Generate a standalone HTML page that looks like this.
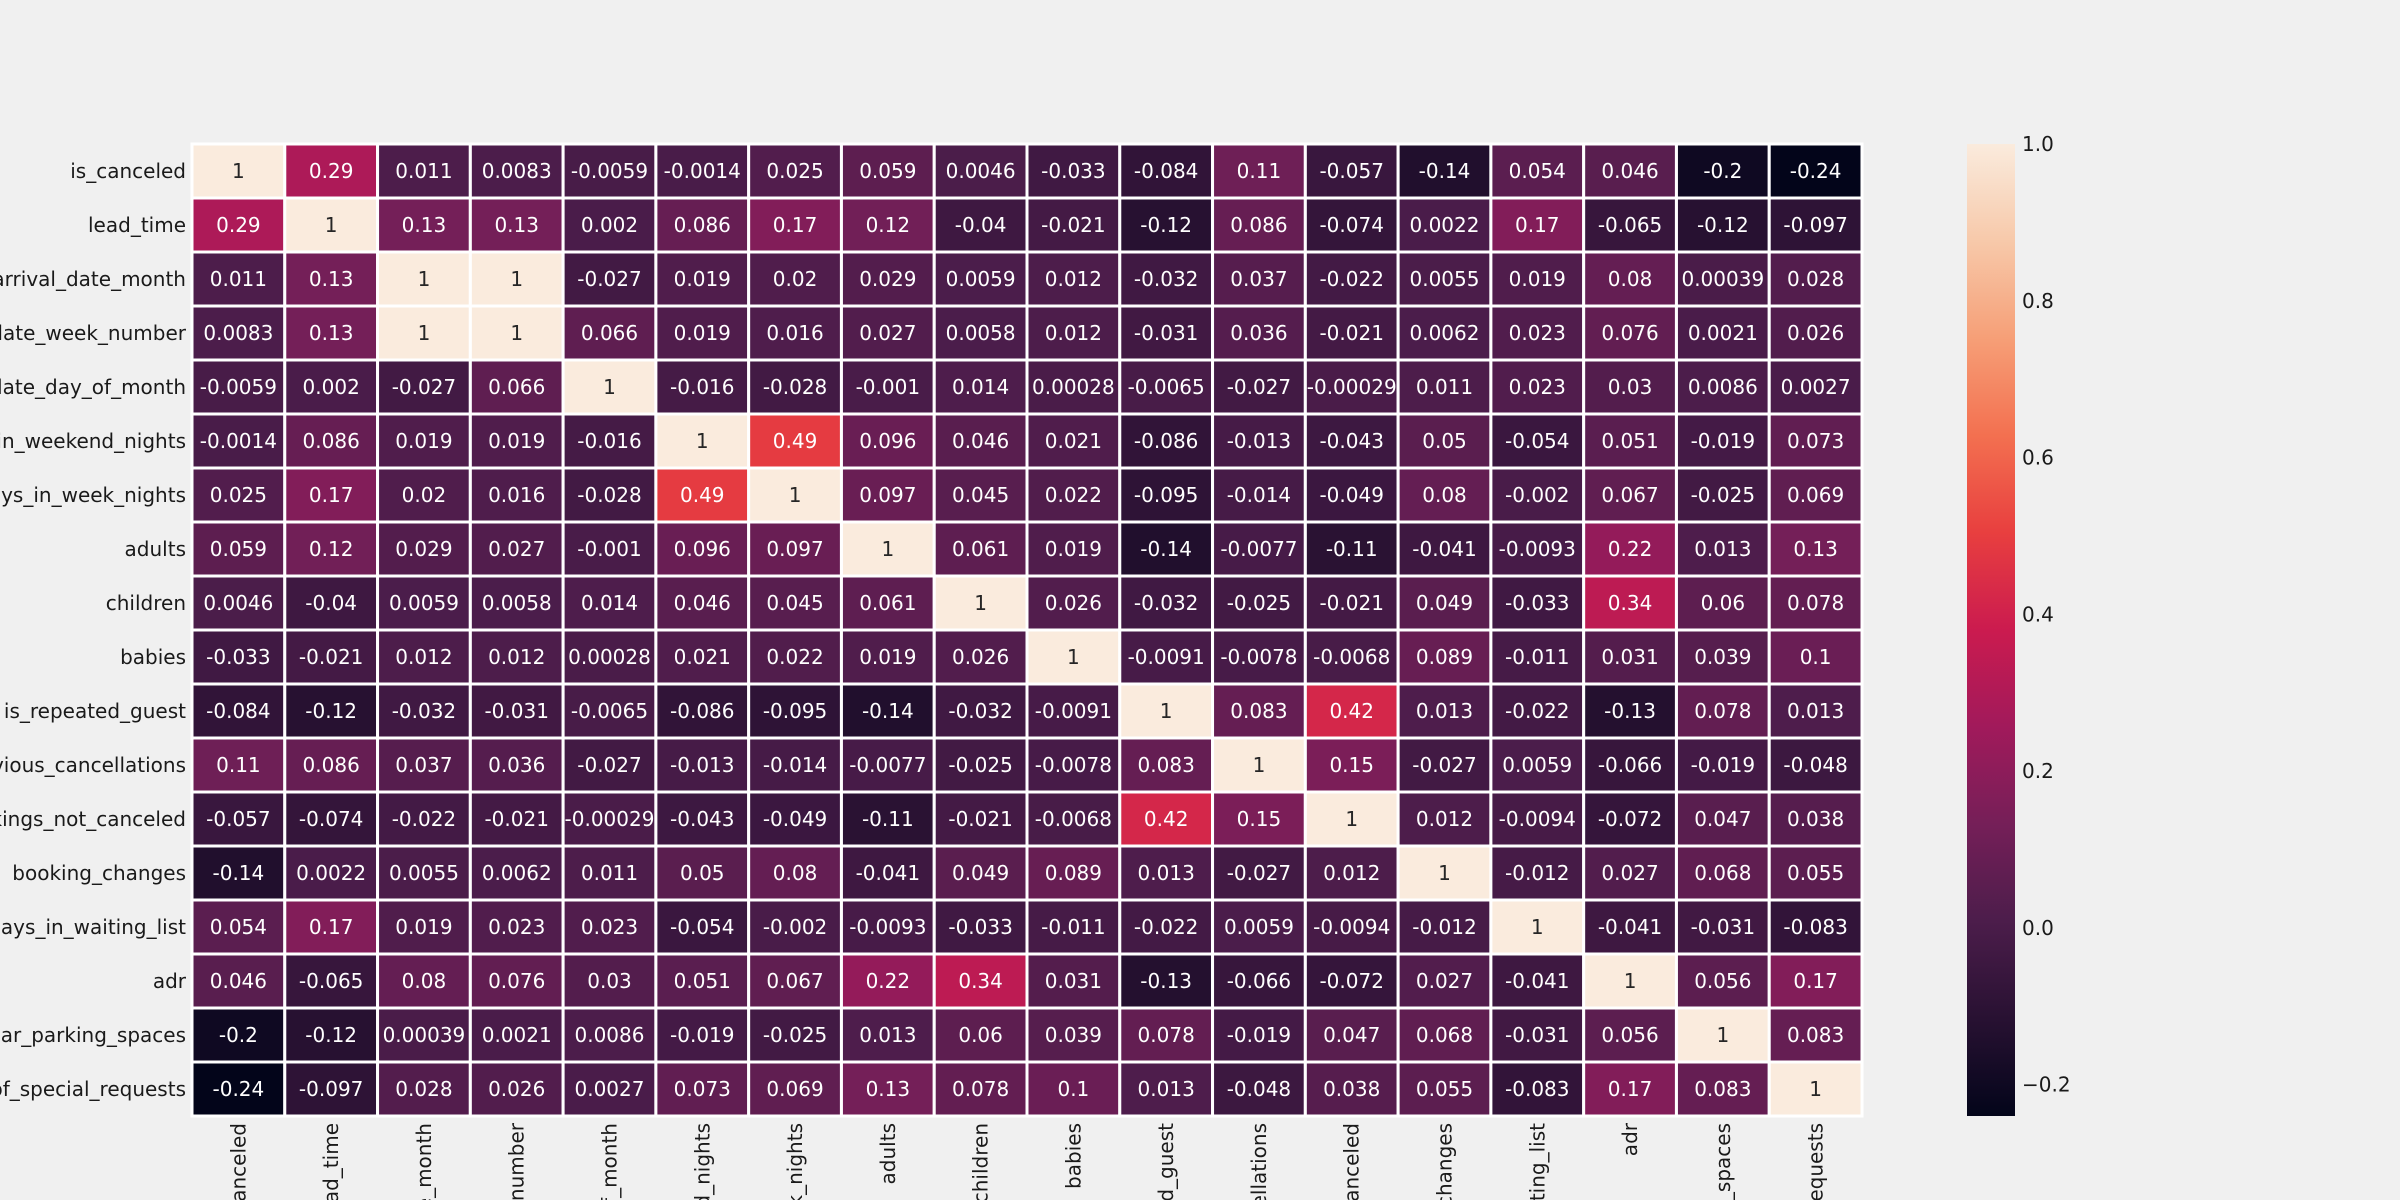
<!DOCTYPE html>
<html><head><meta charset="utf-8"><style>
html,body{margin:0;padding:0;background:#f0f0f0;overflow:hidden;width:2400px;height:1200px}
svg{display:block;overflow:hidden}
text{font-family:"DejaVu Sans","Liberation Sans",sans-serif}
</style></head><body>
<svg id="chart" width="2400" height="1200" viewBox="0 0 2400 1200" overflow="hidden" xmlns="http://www.w3.org/2000/svg">
<rect x="0" y="0" width="2400" height="1200" fill="#f0f0f0"/>
<defs><linearGradient id="cbg" x1="0" y1="1" x2="0" y2="0"></linearGradient></defs>
<g id="cells"></g><g id="ylabels"></g><g id="xlabels"></g><g id="cbar"></g>
</svg>
<script>
const labels = ["is_canceled","lead_time","arrival_date_month","arrival_date_week_number","arrival_date_day_of_month","stays_in_weekend_nights","stays_in_week_nights","adults","children","babies","is_repeated_guest","previous_cancellations","previous_bookings_not_canceled","booking_changes","days_in_waiting_list","adr","required_car_parking_spaces","total_of_special_requests"];
const row0 = [1,0.29,0.011,0.0083,-0.0059,-0.0014,0.025,0.059,0.0046,-0.033,-0.084,0.11,-0.057,-0.14,0.054,0.046,-0.2,-0.24];
const row1 = [0.29,1,0.13,0.13,0.002,0.086,0.17,0.12,-0.04,-0.021,-0.12,0.086,-0.074,0.0022,0.17,-0.065,-0.12,-0.097];
const row2 = [0.011,0.13,1,1,-0.027,0.019,0.02,0.029,0.0059,0.012,-0.032,0.037,-0.022,0.0055,0.019,0.08,0.00039,0.028];
const row3 = [0.0083,0.13,1,1,0.066,0.019,0.016,0.027,0.0058,0.012,-0.031,0.036,-0.021,0.0062,0.023,0.076,0.0021,0.026];
const row4 = [-0.0059,0.002,-0.027,0.066,1,-0.016,-0.028,-0.001,0.014,0.00028,-0.0065,-0.027,-0.00029,0.011,0.023,0.03,0.0086,0.0027];
const row5 = [-0.0014,0.086,0.019,0.019,-0.016,1,0.49,0.096,0.046,0.021,-0.086,-0.013,-0.043,0.05,-0.054,0.051,-0.019,0.073];
const row6 = [0.025,0.17,0.02,0.016,-0.028,0.49,1,0.097,0.045,0.022,-0.095,-0.014,-0.049,0.08,-0.002,0.067,-0.025,0.069];
const row7 = [0.059,0.12,0.029,0.027,-0.001,0.096,0.097,1,0.061,0.019,-0.14,-0.0077,-0.11,-0.041,-0.0093,0.22,0.013,0.13];
const row8 = [0.0046,-0.04,0.0059,0.0058,0.014,0.046,0.045,0.061,1,0.026,-0.032,-0.025,-0.021,0.049,-0.033,0.34,0.06,0.078];
const row9 = [-0.033,-0.021,0.012,0.012,0.00028,0.021,0.022,0.019,0.026,1,-0.0091,-0.0078,-0.0068,0.089,-0.011,0.031,0.039,0.1];
const row10 = [-0.084,-0.12,-0.032,-0.031,-0.0065,-0.086,-0.095,-0.14,-0.032,-0.0091,1,0.083,0.42,0.013,-0.022,-0.13,0.078,0.013];
const row11 = [0.11,0.086,0.037,0.036,-0.027,-0.013,-0.014,-0.0077,-0.025,-0.0078,0.083,1,0.15,-0.027,0.0059,-0.066,-0.019,-0.048];
const row12 = [-0.057,-0.074,-0.022,-0.021,-0.00029,-0.043,-0.049,-0.11,-0.021,-0.0068,0.42,0.15,1,0.012,-0.0094,-0.072,0.047,0.038];
const row13 = [-0.14,0.0022,0.0055,0.0062,0.011,0.05,0.08,-0.041,0.049,0.089,0.013,-0.027,0.012,1,-0.012,0.027,0.068,0.055];
const row14 = [0.054,0.17,0.019,0.023,0.023,-0.054,-0.002,-0.0093,-0.033,-0.011,-0.022,0.0059,-0.0094,-0.012,1,-0.041,-0.031,-0.083];
const row15 = [0.046,-0.065,0.08,0.076,0.03,0.051,0.067,0.22,0.34,0.031,-0.13,-0.066,-0.072,0.027,-0.041,1,0.056,0.17];
const row16 = [-0.2,-0.12,0.00039,0.0021,0.0086,-0.019,-0.025,0.013,0.06,0.039,0.078,-0.019,0.047,0.068,-0.031,0.056,1,0.083];
const row17 = [-0.24,-0.097,0.028,0.026,0.0027,0.073,0.069,0.13,0.078,0.1,0.013,-0.048,0.038,0.055,-0.083,0.17,0.083,1];
const matrix = [row0,row1,row2,row3,row4,row5,row6,row7,row8,row9,row10,row11,row12,row13,row14,row15,row16,row17];
const cbTicks = [1.0,0.8,0.6,0.4,0.2,0.0,-0.2];
const cbTickLabels = ["1.0","0.8","0.6","0.4","0.2","0.0","\u22120.2"];
const vmin = -0.24, vmax = 1.0;

const NS="http://www.w3.org/2000/svg";
const L=192,T=144,R=1862,B=1116;
const n=labels.length, cw=(R-L)/n, ch=(B-T)/n;
const stops=[[3,5,26],[40,17,50],[76,29,75],[117,31,88],[161,26,91],[203,27,79],[232,63,63],[243,112,80],[246,159,119],[247,201,170],[250,235,221]];
function cmap(v){let f=(v-vmin)/(vmax-vmin);f=Math.max(0,Math.min(1,f));const p=f*10,i=Math.min(9,Math.floor(p)),t=p-i;const a=stops[i],b=stops[i+1];return `rgb(${a.map((c,k)=>Math.round(c+(b[k]-c)*t)).join(',')})`;}
function xs(j){return L+j*cw;} function ys(i){return T+i*ch;}
function mk(tag,attrs,parent){const e=document.createElementNS(NS,tag);for(const k in attrs)e.setAttribute(k,attrs[k]);parent.appendChild(e);return e;}
const gc=document.getElementById('cells');
matrix.forEach((row,i)=>row.forEach((v,j)=>{
  const r=mk('rect',{x:xs(j),y:ys(i),width:cw,height:ch,fill:cmap(v),stroke:'#ffffff','stroke-width':3},gc);
  
  
  const t=mk('text',{x:xs(j)+cw/2,y:ys(i)+ch/2+7,'text-anchor':'middle','font-size':20,fill:((v-vmin)/(vmax-vmin)>0.85)?'#262626':'#ffffff'},gc);
  
  
  t.textContent=String(v);
}));
const gy=document.getElementById('ylabels'), gx=document.getElementById('xlabels');
labels.forEach((s,i)=>{
  const t=mk('text',{x:186,y:ys(i)+ch/2+7,'text-anchor':'end','font-size':20,fill:'#1a1a1a'},gy);
  
  
  t.textContent=s;
  const cx=xs(i)+cw/2+7;
  const u=mk('text',{x:0,y:0,'text-anchor':'end','font-size':20,fill:'#1a1a1a',transform:`translate(${cx},1123) rotate(-90)`},gx);
  
  
  u.textContent=s;
});
const grad=document.getElementById('cbg');
stops.forEach((c,k)=>mk('stop',{offset:(k/10),'stop-color':`rgb(${c.join(',')})`},grad));
const gb=document.getElementById('cbar');
const cb=mk('rect',{x:1967,y:T,width:48,height:B-T,fill:'url(#cbg)'},gb);


function cy(v){return B-(v-vmin)/(vmax-vmin)*(B-T);}
cbTicks.forEach((v,k)=>{
  const t=mk('text',{x:2022,y:cy(v)+7,'font-size':20,fill:'#1a1a1a'},gb);
  
  
  t.textContent=cbTickLabels[k];
});
</script>
</body></html>
